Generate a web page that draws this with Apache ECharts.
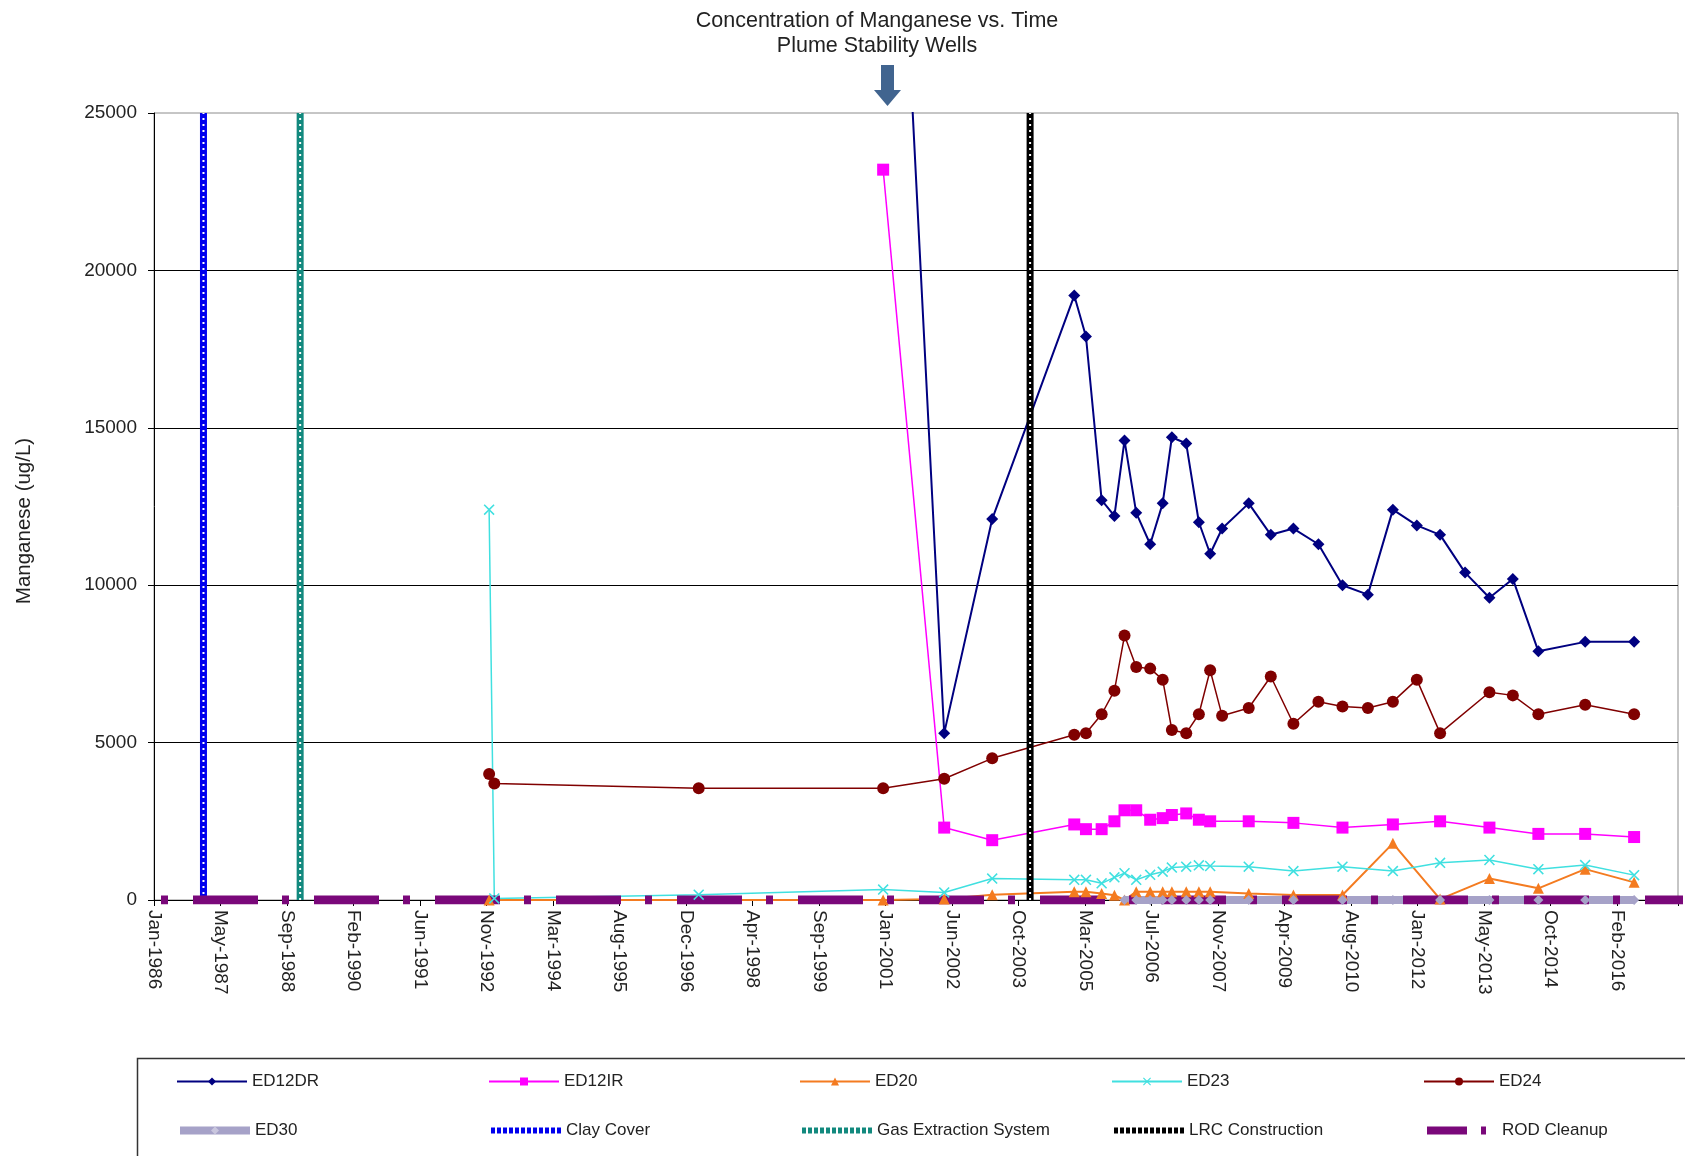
<!DOCTYPE html>
<html><head><meta charset="utf-8">
<script src="https://cdn.jsdelivr.net/npm/echarts@6/dist/echarts.min.js"></script>
<style>html,body{margin:0;padding:0;background:#fff}#c{width:1685px;height:1156px}</style>
</head><body><div id="c"></div>
<script>
// ---------------- DATA ----------------
const tickLabels = ['Jan-1986','May-1987','Sep-1988','Feb-1990','Jun-1991','Nov-1992','Mar-1994','Aug-1995','Dec-1996','Apr-1998','Sep-1999','Jan-2001','Jun-2002','Oct-2003','Mar-2005','Jul-2006','Nov-2007','Apr-2009','Aug-2010','Jan-2012','May-2013','Oct-2014','Feb-2016'];

const ed12drDates = ['2001-01-05','2002-04-09','2003-04-05','2004-12-12','2005-03-10','2005-07-06','2005-10-10','2005-12-25','2006-03-23','2006-07-06','2006-10-08','2006-12-16','2007-04-03','2007-07-07','2007-09-30','2007-12-29','2008-07-16','2008-12-29','2009-06-17','2009-12-22','2010-06-21','2010-12-29','2011-07-05','2012-01-01','2012-06-24','2012-12-29','2013-06-30','2013-12-23','2014-07-03','2015-06-20','2016-06-22'];
const ed12drValues = [43500,5300,12100,19200,17900,12700,12200,14600,12300,11300,12600,14700,14500,12000,11000,11800,12600,11600,11800,11300,10000,9700,12400,11900,11600,10400,9600,10200,7900,8200,8200];

const ed12irDates = ['2001-01-05','2002-04-09','2003-04-05','2004-12-12','2005-03-10','2005-07-06','2005-10-10','2005-12-25','2006-03-23','2006-07-06','2006-10-08','2006-12-16','2007-04-03','2007-07-07','2007-09-30','2008-07-16','2009-06-17','2010-06-21','2011-07-05','2012-06-24','2013-06-30','2014-07-03','2015-06-20','2016-06-22'];
const ed12irValues = [23200,2300,1900,2400,2250,2250,2500,2850,2850,2550,2600,2700,2750,2550,2500,2500,2450,2300,2400,2500,2300,2100,2100,2000];

const ed20Dates = ['1992-11-25','2001-01-05','2002-04-09','2003-04-05','2004-12-12','2005-03-10','2005-07-06','2005-10-10','2005-12-25','2006-03-23','2006-07-06','2006-10-08','2006-12-16','2007-04-03','2007-07-07','2007-09-30','2008-07-16','2009-06-17','2010-06-21','2011-07-05','2012-06-24','2013-06-30','2014-07-03','2015-06-20','2016-06-22'];
const ed20Values = [0,0,30,170,265,265,210,150,0,265,265,265,265,265,265,265,210,160,160,1800,30,680,370,980,560];

const ed23Dates = ['1992-11-25','1993-01-03','1997-03-20','2001-01-05','2002-04-09','2003-04-05','2004-12-12','2005-03-10','2005-07-06','2005-10-10','2005-12-25','2006-03-23','2006-07-06','2006-10-08','2006-12-16','2007-04-03','2007-07-07','2007-09-30','2008-07-16','2009-06-17','2010-06-21','2011-07-05','2012-06-24','2013-06-30','2014-07-03','2015-06-20','2016-06-22'];
const ed23Values = [12400,50,170,330,240,680,640,640,530,720,850,640,800,900,1030,1060,1100,1080,1060,920,1060,920,1180,1270,980,1110,790];

const ed24Dates = ['1992-11-25','1993-01-03','1997-03-20','2001-01-05','2002-04-09','2003-04-05','2004-12-12','2005-03-10','2005-07-06','2005-10-10','2005-12-25','2006-03-23','2006-07-06','2006-10-08','2006-12-16','2007-04-03','2007-07-07','2007-09-30','2007-12-29','2008-07-16','2008-12-29','2009-06-17','2009-12-22','2010-06-21','2010-12-29','2011-07-05','2012-01-01','2012-06-24','2013-06-30','2013-12-23','2014-07-03','2015-06-20','2016-06-22'];
const ed24Values = [4000,3700,3550,3550,3850,4500,5250,5300,5900,6650,8400,7400,7350,7000,5400,5300,5900,7300,5850,6100,7100,5600,6300,6150,6100,6300,7000,5300,6600,6500,5900,6200,5900];

const ed30Dates = ['2005-12-25','2006-03-23','2006-07-06','2006-10-08','2006-12-16','2007-04-03','2007-07-07','2007-09-30','2008-07-16','2009-06-17','2010-06-21','2011-07-05','2012-06-24','2013-06-30','2014-07-03','2015-06-20','2016-06-22'];
const ed30Values = [0,0,0,0,0,0,0,0,0,0,0,0,0,0,0,0,0];

const clayCoverDates = ['1987-01-08','1987-01-08'];
const clayCoverValues = [0,25000];
const gasExtractionDates = ['1989-01-04','1989-01-04'];
const gasExtractionValues = [0,25000];
const lrcConstructionDates = ['2004-01-15','2004-01-15'];
const lrcConstructionValues = [0,25000];
const rodCleanupDates = ['1986-01-01','2017-06-30'];
const rodCleanupValues = [0,0];

// ---------------- HELPERS ----------------
const BASE = Date.UTC(1986,0,1);
function toDays(s){ const p = s.split('-').map(Number); return (Date.UTC(p[0],p[1]-1,p[2]) - BASE)/86400000; }
function pts(dates, vals){ return dates.map((d,i)=>[toDays(d), vals[i]]); }

const FONT = 'Liberation Sans, Arial, sans-serif';
const xSymbol = 'path://M1,0 L5,4 L9,0 L10,1 L6,5 L10,9 L9,10 L5,6 L1,10 L0,9 L4,5 L0,1 Z';

function dataSeries(name, dates, vals, color, symbol, size, width){
  return {name, type:'line', data: pts(dates, vals), symbol, symbolSize:size,
    lineStyle:{color, width}, itemStyle:{color}, animation:false, clip:true};
}
function eventSeries(name, dates, vals, color){
  return [
    {name, type:'line', data: pts(dates, vals), symbol:'none', lineStyle:{color, width:7}, itemStyle:{color}, animation:false},
    {name, type:'line', data: pts(dates, vals), symbol:'none', lineStyle:{color:'#ffffff', width:2, type:[2,4]}, itemStyle:{color}, animation:false, silent:true}
  ];
}

const series = [
  dataSeries('ED12DR', ed12drDates, ed12drValues, '#000080', 'diamond', 12, 2),
  dataSeries('ED12IR', ed12irDates, ed12irValues, '#FF00FF', 'rect', 12, 1.5),
  dataSeries('ED20', ed20Dates, ed20Values, '#F47B20', 'triangle', 11, 2),
  dataSeries('ED23', ed23Dates, ed23Values, '#40E0E0', xSymbol, 11, 1.5),
  dataSeries('ED24', ed24Dates, ed24Values, '#800000', 'circle', 12, 1.5),
  {name:'ED30', type:'line', data: pts(ed30Dates, ed30Values), symbol:'diamond', symbolSize:10,
    lineStyle:{color:'#A6A2C8', width:8}, itemStyle:{color:'#A6A2C8'}, animation:false},
  ...eventSeries('Clay Cover', clayCoverDates, clayCoverValues, '#0000EE'),
  ...eventSeries('Gas Extraction System', gasExtractionDates, gasExtractionValues, '#12897E'),
  ...eventSeries('LRC Construction', lrcConstructionDates, lrcConstructionValues, '#000000'),
  {name:'ROD Cleanup', type:'line', data: pts(rodCleanupDates, rodCleanupValues), symbol:'none',
    lineStyle:{color:'#7A087A', width:9, type:[65,24,7,25], dashOffset:82}, itemStyle:{color:'#7A087A'}, animation:false}
];

// legend layout: [name, iconLeft, rowCenterY, extra]
const hideSym = {opacity:0};
const legendLayout = [
  ['ED12DR', 176, 1082, {}],
  ['ED12IR', 488, 1082, {}],
  ['ED20', 799, 1082, {}],
  ['ED23', 1111, 1082, {}],
  ['ED24', 1423, 1082, {}],
  ['ED30', 176, 1131, {lineStyle:{width:8}, itemStyle:{color:'#C9C6DE'}}],
  ['Clay Cover', 488, 1131, {lineStyle:{width:6, type:[4,2]}, itemStyle:hideSym}],
  ['Gas Extraction System', 799, 1131, {lineStyle:{width:6, type:[4,2]}, itemStyle:hideSym}],
  ['LRC Construction', 1111, 1131, {lineStyle:{width:6, type:[4,2]}, itemStyle:hideSym}],
  ['ROD Cleanup', 1423, 1131, {lineStyle:{width:8, type:[40,14,5,30], dashOffset:0}, itemStyle:hideSym}]
];
const legends = legendLayout.map(l => ({
  left: l[1], top: l[2] - 9, padding: 0, itemWidth: 70, itemHeight: 10, itemGap: 0,
  textStyle:{fontSize:17, color:'#222', fontFamily:FONT},
  data:[Object.assign({name:l[0]}, l[3])]
}));

const option = {
  backgroundColor:'#fff',
  animation:false,
  textStyle:{fontFamily:FONT},
  grid:{left:154, right:7, top:113, bottom:256, show:true, borderColor:'#8c8c8c', borderWidth:1, containLabel:false},
  xAxis:{type:'value', min:0, max:11460, interval:500,
    axisLine:{show:true, lineStyle:{color:'#000', width:1}},
    axisTick:{show:true, length:6, lineStyle:{color:'#000'}},
    axisLabel:{rotate:-90, fontSize:19, color:'#222', margin:10, fontFamily:FONT,
      formatter:(v)=>{ const i = Math.round(v/500); return Math.abs(v-i*500)<1e-6 ? (tickLabels[i]||'') : ''; }},
    splitLine:{show:false}},
  yAxis:{type:'value', min:0, max:25000, interval:5000,
    axisLine:{show:true, lineStyle:{color:'#000', width:1}},
    axisTick:{show:true, length:6, lineStyle:{color:'#000'}},
    axisLabel:{fontSize:19, color:'#222', margin:17, fontFamily:FONT, formatter:(v)=>String(v)},
    splitLine:{show:true, showMinLine:false, showMaxLine:false, lineStyle:{color:'#000', width:1}}},
  legend: legends,
  series,
  graphic:[
    {type:'text', x:877, y:9, style:{text:'Concentration of Manganese vs. Time\nPlume Stability Wells', textAlign:'center', textVerticalAlign:'top', font:'21.5px '+FONT, lineHeight:25, fill:'#222'}},
    {type:'polygon', shape:{points:[[881,65],[894,65],[894,90],[901,90],[887.5,106],[874,90],[881,90]]}, style:{fill:'#41648F'}},
    {type:'text', x:24, y:521, rotation:Math.PI/2, style:{text:'Manganese (ug/L)', textAlign:'center', textVerticalAlign:'middle', font:'20.5px '+FONT, fill:'#222'}},
    {type:'rect', shape:{x:137.5, y:1058.5, width:1560, height:120}, style:{fill:'none', stroke:'#333', lineWidth:1.5}, z:-1}
  ]
};

const chart = echarts.init(document.getElementById('c'), null, {renderer:'canvas'});
chart.setOption(option);
</script>
</body></html>
